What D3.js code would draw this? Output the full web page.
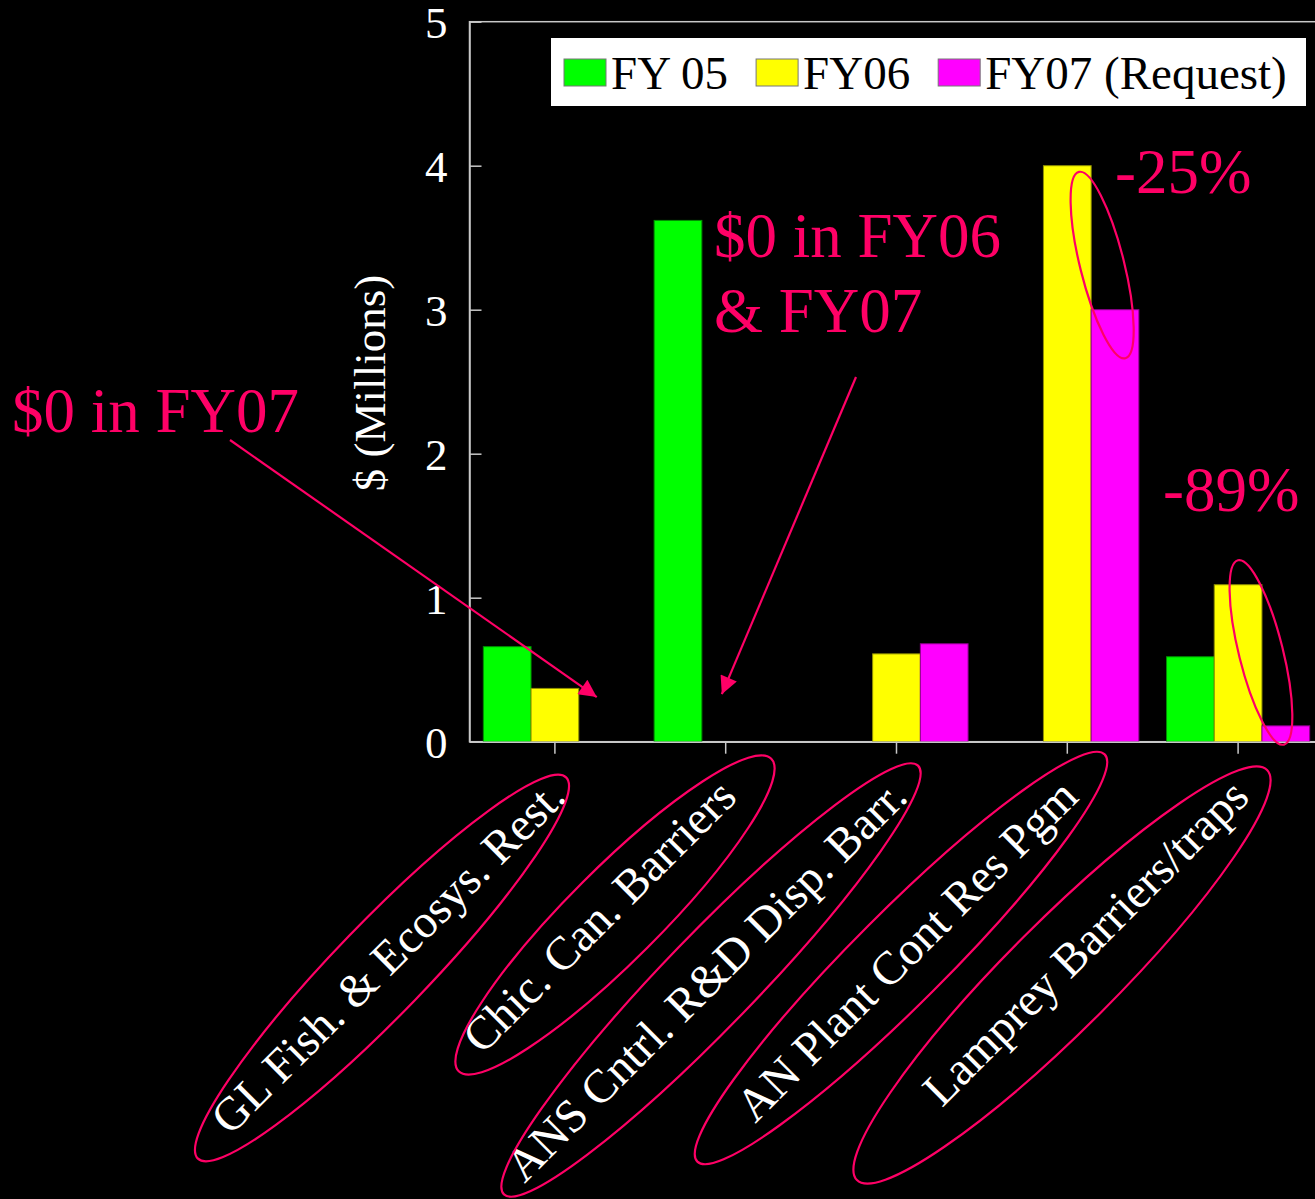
<!DOCTYPE html>
<html>
<head>
<meta charset="utf-8">
<script src="https://cdn.jsdelivr.net/npm/d3@7"></script>
<style>
  html, body { margin: 0; padding: 0; background: #000; overflow: hidden; }
  svg { display: block; font-family: "Liberation Serif", "Times New Roman", serif; }
</style>
</head>
<body>
<script>
// chart values
const categories = ["GL Fish. & Ecosys. Rest.", "Chic. Can. Barriers", "ANS Cntrl. R&D Disp. Barr.", "AN Plant Cont Res Pgm", "Lamprey Barriers/traps"]
const seriesNames = ["FY 05", "FY06", "FY07 (Request)"]
const fy05 = [0.66, 3.62, 0, 0, 0.59]
const fy06 = [0.37, 0, 0.61, 4.0, 1.09]
const fy07 = [0, 0, 0.68, 3.0, 0.11]
const yTicks = [0, 1, 2, 3, 4, 5]
const yTitle = "$ (Millions)"
const colors = ["#00ff00", "#ffff00", "#ff00ff"]

const width = 1315
const height = 1199
const pink = "#ff0066"

// plot area
const plotLeft = 469.5
const plotTop = 21.7
const plotBottom = 741.7
const step = 170.8

const svg = d3.select('body').append('svg')
    .attr('width', width)
    .attr('height', height)

svg.append('rect').attr('width', width).attr('height', height).attr('fill', '#000')

const x = d3.scaleBand()
    .domain(categories)
    .range([plotLeft, plotLeft + step * categories.length])

const xSub = d3.scaleBand()
    .domain(seriesNames)
    .range([0, x.bandwidth()])
    .paddingOuter(0.29)

const y = d3.scaleLinear()
    .domain([0, 5])
    .range([plotBottom, plotTop])

const series = seriesNames.map((name, i) => ({
    name: name,
    color: colors[i],
    values: [fy05, fy06, fy07][i]
}))

// frame of the plot area
svg.append('rect')
    .attr('x', plotLeft)
    .attr('y', plotTop)
    .attr('width', step * categories.length)
    .attr('height', plotBottom - plotTop)
    .attr('fill', 'none')
    .attr('stroke', '#c8c8c8')
    .attr('stroke-width', 1.5)

// bars
series.forEach(s => {
    svg.append('g').selectAll('rect')
        .data(categories.map((c, i) => ({ cat: c, v: s.values[i] })).filter(d => d.v > 0))
        .enter()
        .append('rect')
        .attr('x', d => x(d.cat) + xSub(s.name))
        .attr('y', d => y(d.v))
        .attr('width', xSub.bandwidth())
        .attr('height', d => plotBottom - y(d.v))
        .attr('fill', s.color)
        .attr('stroke', d3.color(s.color).darker(1.6))
        .attr('stroke-width', 1)
})

// axes
const xAxis = d3.axisBottom(x).tickSize(12).tickSizeOuter(0).tickFormat('')
const gx = svg.append('g')
    .attr('transform', 'translate(0,' + plotBottom + ')')
    .call(xAxis)
gx.selectAll('path, line').attr('stroke', '#c8c8c8').attr('stroke-width', 1.5)

const yAxis = d3.axisLeft(y)
    .tickValues(yTicks)
    .tickFormat(d3.format('d'))
    .tickSize(-12)
    .tickSizeOuter(0)
    .tickPadding(22)
const gy = svg.append('g')
    .attr('transform', 'translate(' + plotLeft + ',0)')
    .call(yAxis)
gy.selectAll('path, line').attr('stroke', '#c8c8c8').attr('stroke-width', 1.5)
gy.selectAll('text')
    .attr('fill', '#fff')
    .attr('dy', '0.36em')
    .style('font-family', '"Liberation Serif", serif')
    .style('font-size', '45px')

// y title
svg.append('text')
    .attr('transform', 'translate(385,383) rotate(-90)')
    .attr('text-anchor', 'middle')
    .attr('fill', '#fff')
    .style('font-size', '45px')
    .text(yTitle)

// category labels, rotated
categories.forEach(c => {
    svg.append('text')
        .attr('transform', 'translate(' + (x(c) + x.bandwidth() / 2 + 13) + ',799) rotate(-45)')
        .attr('text-anchor', 'end')
        .attr('fill', '#fff')
        .style('font-size', '47px')
        .text(c)
})

// legend
const legend = svg.append('g')
legend.append('rect')
    .attr('x', 551).attr('y', 38)
    .attr('width', 755).attr('height', 68)
    .attr('fill', '#fff')
let lx = 564
series.forEach(s => {
    legend.append('rect')
        .attr('x', lx).attr('y', 59)
        .attr('width', 42).attr('height', 27)
        .attr('fill', s.color)
        .attr('stroke', '#777')
        .attr('stroke-width', 1)
    const t = legend.append('text')
        .attr('x', lx + 47).attr('y', 89)
        .attr('fill', '#000')
        .style('font-size', '47px')
        .text(s.name)
    lx = lx + 47 + t.node().getComputedTextLength() + 28
})

// annotations
const defs = svg.append('defs')
defs.append('marker')
    .attr('id', 'arrow')
    .attr('viewBox', '0 0 10 10')
    .attr('refX', 10).attr('refY', 5)
    .attr('markerWidth', 9).attr('markerHeight', 8)
    .attr('markerUnits', 'strokeWidth')
    .attr('orient', 'auto')
    .append('path')
    .attr('d', 'M0,0 L10,5 L0,10 Z')
    .attr('fill', pink)

const notes = [
    { text: "$0 in FY07", x: 12, y: 432 },
    { text: "$0 in FY06", x: 714, y: 257 },
    { text: "& FY07", x: 714, y: 332 },
    { text: "-25%", x: 1115, y: 193 },
    { text: "-89%", x: 1163, y: 511 }
]
notes.forEach(n => {
    svg.append('text')
        .attr('x', n.x).attr('y', n.y)
        .attr('fill', pink)
        .style('font-size', '63px')
        .text(n.text)
})

const arrows = [
    { x1: 230, y1: 440, x2: x(categories[0]) + xSub(seriesNames[2]) + 18, y2: y(0.31) },
    { x1: 856, y1: 377, x2: x(categories[1]) + xSub(seriesNames[1]) + 20, y2: y(0.33) }
]
arrows.forEach(a => {
    svg.append('line')
        .attr('x1', a.x1).attr('y1', a.y1)
        .attr('x2', a.x2).attr('y2', a.y2)
        .attr('stroke', pink)
        .attr('stroke-width', 2.2)
        .attr('marker-end', 'url(#arrow)')
})

// ellipses round the changed bars and the category labels
const rings = [
    { cx: x(categories[3]) + xSub(seriesNames[2]) + 11, cy: y(3.31), rx: 22, ry: 96, rot: -14 },
    { cx: x(categories[4]) + xSub(seriesNames[2]) - 1, cy: y(0.62), rx: 22, ry: 95, rot: -14 },
    { cx: 382, cy: 968, rx: 265, ry: 46, rot: -46 },
    { cx: 615, cy: 915, rx: 221, ry: 46, rot: -45 },
    { cx: 711, cy: 980, rx: 298, ry: 46, rot: -46 },
    { cx: 901, cy: 958, rx: 288, ry: 46, rot: -45 },
    { cx: 1062, cy: 975, rx: 290, ry: 54, rot: -45 }
]
rings.forEach(r => {
    svg.append('ellipse')
        .attr('transform', 'translate(' + r.cx + ',' + r.cy + ') rotate(' + r.rot + ')')
        .attr('rx', r.rx).attr('ry', r.ry)
        .attr('fill', 'none')
        .attr('stroke', pink)
        .attr('stroke-width', 2.2)
})
</script>
</body>
</html>
